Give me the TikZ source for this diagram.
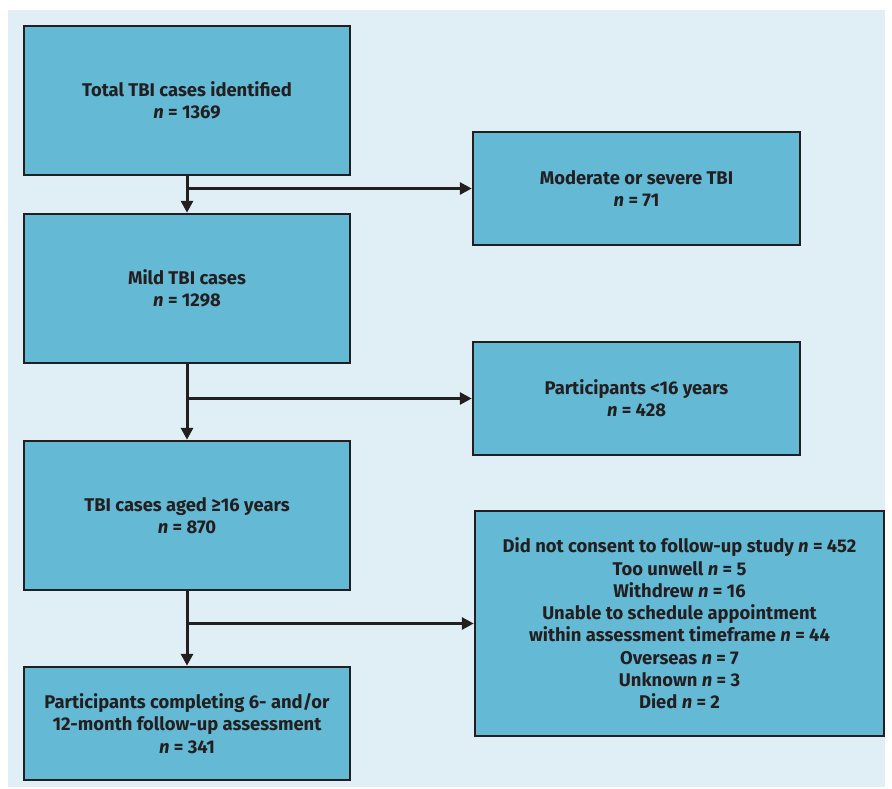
\documentclass[tikz,border=0pt]{standalone}
\usepackage{fontspec}
\setmainfont{Fira Sans}
\usetikzlibrary{arrows.meta}
\definecolor{bgblue}{HTML}{E0EEF5}
\definecolor{boxblue}{HTML}{64B9D5}
\definecolor{inkdark}{HTML}{231F20}
\begin{document}
\begin{tikzpicture}[x=1pt, y=-1pt,
  box/.style={rectangle, draw=inkdark, line width=2.5pt, fill=boxblue, align=center,
    text=inkdark, font=\fontsize{18.4}{22.3}\selectfont\bfseries, inner sep=0pt},
  arrow/.style={draw=inkdark, line width=3pt, -{Triangle[length=12pt,width=12pt]}}]
  \useasboundingbox (0,0) rectangle (892,789);
  \fill[bgblue] (8,10) rectangle (885,787);

  \node[box, minimum width=326pt, minimum height=149pt] (total) at (187,100.5)
    {Total TBI cases identified\\\textit{n} = 1369};
  \node[box, minimum width=327pt, minimum height=113pt] (moderate) at (636.5,188.5)
    {Moderate or severe TBI\\\textit{n} = 71};
  \node[box, minimum width=326pt, minimum height=149pt] (mild) at (187,288.5)
    {Mild TBI cases\\\textit{n} = 1298};
  \node[box, minimum width=327pt, minimum height=113pt] (young) at (636.5,398.5)
    {Participants <16 years\\\textit{n} = 428};
  \node[box, minimum width=326pt, minimum height=149pt] (aged) at (187,515.5)
    {TBI cases aged ≥16 years\\\textit{n} = 870};
  \node[box, minimum width=409pt, minimum height=225pt] (excluded) at (679.5,623.5)
    {Did not consent to follow-up study \textit{n} = 452\\
     Too unwell \textit{n} = 5\\
     Withdrew \textit{n} = 16\\
     Unable to schedule appointment\\
     within assessment timeframe \textit{n} = 44\\
     Overseas \textit{n} = 7\\
     Unknown \textit{n} = 3\\
     Died \textit{n} = 2};
  \node[box, minimum width=326pt, minimum height=113pt] (completed) at (187,723.5)
    {Participants completing 6- and/or\\12-month follow-up assessment\\\textit{n} = 341};

  \path[arrow] (total) -- (mild);
  \path[arrow] (moderate.west -| total.south) -- (moderate.west);
  \path[arrow] (mild) -- (aged);
  \path[arrow] (young.west -| mild.south) -- (young.west);
  \path[arrow] (aged) -- (completed);
  \path[arrow] (excluded.west -| aged.south) -- (excluded.west);
\end{tikzpicture}
\end{document}
